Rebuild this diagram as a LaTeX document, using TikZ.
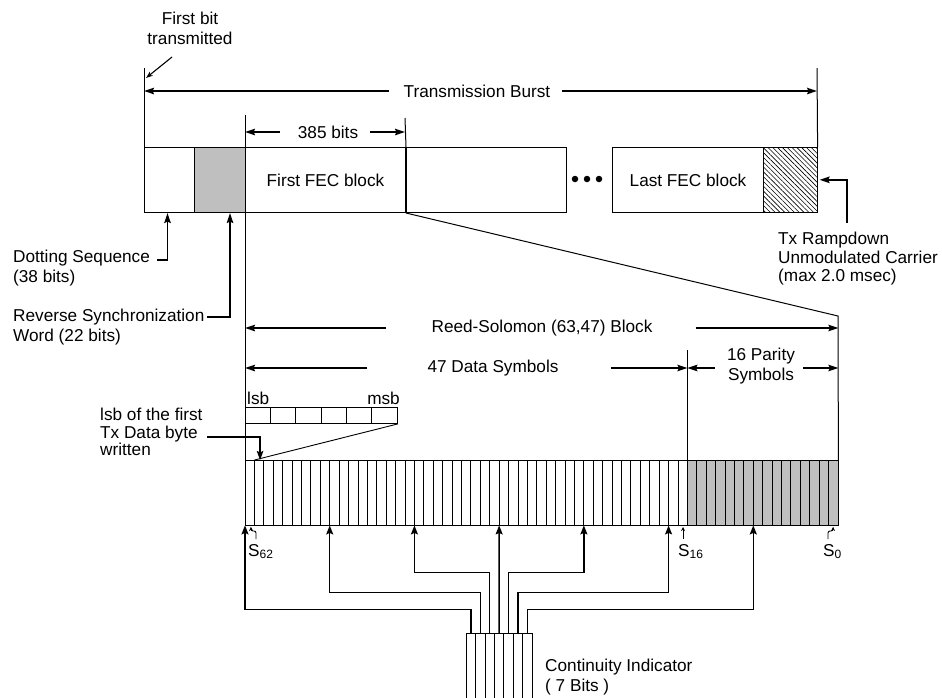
\documentclass[tikz,border=0pt]{standalone}
\usepackage{fontspec}
\setmainfont{Liberation Sans}
\usetikzlibrary{arrows.meta, positioning, calc, patterns.meta}
\newcommand\symw{9.4127}

\begin{document}
\begin{tikzpicture}[
    x=1pt, y=-1pt,
    font=\fontsize{17.2}{20}\selectfont,
    >={Stealth[length=10pt, width=6.5pt, inset=1.5pt]},
    % Base line styles
    tick/.style={line width=1pt},
    cellline/.style={line width=0.9pt},
    dim/.style={->, line width=1.6pt},
    lead/.style={->, line width=1.6pt},
    feed/.style={-{Stealth[length=9pt, width=7pt, inset=1.5pt]}, line width=1.4pt},
    mk/.style={-{Stealth[length=4pt, width=4pt]}, line width=0.9pt},
    % Boxes and labels
    blk/.style={draw, line width=1pt, minimum height=65pt, inner sep=0pt, anchor=north west},
    lbl/.style={align=left, inner sep=0pt},
    ctr/.style={align=center, inner sep=0pt},
    dot/.style={circle, fill, inner sep=0pt, minimum size=6.5pt}
]
\useasboundingbox (0,0) rectangle (942,697);

% --- Burst blocks ---
\node [blk, minimum width=50pt] (dotseq) at (144,147) {};
\node [blk, minimum width=51pt, fill=black!25] (sync) at (194,147) {};
\node [blk, minimum width=160pt] (fec1) at (245,147) {First FEC block};
\node [blk, minimum width=161pt] (fec2) at (405,147) {};
\node [blk, minimum width=151pt] (fecN) at (612,147) {Last FEC block};
\node [blk, minimum width=54pt, pattern={Lines[angle=-45, distance=3.4pt, line width=0.6pt]}] (ramp) at (763,147) {};
\draw [line width=1.6pt] (fec1.north east) -- (fec1.south east);
\foreach \x [count=\i] in {575,587,599}
  \node [dot] (dot\i) at (\x,179) {};

% Burst extent
\coordinate (fbtop) at (144,68);
\coordinate (tbtop) at (817,68);
\draw [tick] (fbtop) -- (dotseq.north west);
\draw [tick] (tbtop) -- (ramp.north east);
\node [ctr] (firstbit) at (190,28) {First bit\\transmitted};
\coordinate (fbtail) at (172,57);
\coordinate (fbtip) at (146,78);
\draw [-{Stealth[length=7pt, width=5pt]}, line width=1.1pt] (fbtail) -- (fbtip);

\node [lbl] (burst) at (477,91) {Transmission Burst};
\draw [dim] ([xshift=-15pt]burst.west) -- (burst.west -| fbtop);
\draw [dim] ([xshift=12pt]burst.east) -- (burst.east -| tbtop);

% 385 bits
\coordinate (t385a) at (245,115);
\coordinate (t385b) at (405,118);
\draw [tick] (t385b) -- (fec1.north east);
\node [lbl] (b385) at (328,132) {385 bits};
\draw [dim] ([xshift=-18pt]b385.west) -- (b385.west -| t385a);
\draw [dim] ([xshift=12pt]b385.east) -- (b385.east -| t385b);

% --- Side labels ---
\node [lbl, anchor=west] (dotlbl) at (13,268) {Dotting Sequence\\(38 bits)};
\coordinate (dottail) at (157,260);
\draw [lead] (dottail) -| ([xshift=-2pt]dotseq.south);

\node [lbl, anchor=west] (synclbl) at (13,327) {Reverse Synchronization\\Word (22 bits)};
\coordinate (synctail) at (207,317);
\draw [lead] (synctail) -| ([xshift=10pt]sync.south);

\node [lbl, anchor=west, font=\fontsize{17.2}{18.5}\selectfont] (txlbl) at (778,259) {Tx Rampdown\\Unmodulated Carrier\\(max 2.0 msec)};
\coordinate (txtail) at (847,223);
\draw [lead] (txtail) |- ([xshift=2pt]ramp.east);

% --- Reed-Solomon block ---
\node [minimum width=593pt, minimum height=65pt, inner sep=0pt, anchor=north west] (row) at (245,460) {};
\coordinate (pbound) at ($(row.north west)+(47*\symw,0)$);
\fill [black!25] (pbound) rectangle (row.south east);
\foreach \i in {1,...,62}
  \draw [cellline] ($(row.north west)+(\i*\symw,0)$) -- ++(0,65);
\draw [tick] (row.north west) rectangle (row.south east);

\draw [tick] (t385a) -- (row.north west);
\coordinate (rstop) at (838,316);
\draw [tick] (fec1.south east) -- (rstop) -- (row.north east);
\coordinate (ptop) at ($(pbound)+(0,-110)$);
\draw [tick] (ptop) -- (pbound);

\node [lbl] (rs) at (542,328) {Reed-Solomon (63,47) Block};
\draw [dim] ([xshift=-45pt]rs.west) -- (rs.west -| row.west);
\draw [dim] ([xshift=43pt]rs.east) -- (rs.east -| row.east);

\node [lbl] (data) at (493,368) {47 Data Symbols};
\draw [dim] ([xshift=-60pt]data.west) -- (data.west -| row.west);
\draw [dim] ([xshift=52pt]data.east) -- (data.east -| pbound);

\node [ctr] (parity) at (761,366) {16 Parity\\Symbols};
\draw [dim] ([xshift=-12pt]parity.west |- data.east) -- (pbound |- data.east);
\draw [dim] ([xshift=8pt]parity.east |- data.east) -- (row.east |- data.east);

% Symbol detail
\node [draw, line width=0.9pt, minimum width=152pt, minimum height=16pt, inner sep=0pt, anchor=north west] (byte) at (245,407) {};
\foreach \i in {1,...,5}
  \draw [cellline] ($(byte.north west)+(\i*25.33,0)$) -- ++(0,16);
\node [lbl, anchor=base west] (lsb) at (247,404) {lsb};
\node [lbl, anchor=base east] (msb) at (400,404) {msb};
\draw [cellline] (byte.south east) -- ($(row.north west)+(\symw,0)$);

\node [lbl, anchor=west, font=\fontsize{17.2}{17.5}\selectfont] (lsbfirst) at (100,432) {lsb of the first\\Tx Data byte\\written};
\coordinate (lsbtail) at (207,437);
\draw [-{Stealth[length=9pt, width=6.5pt, inset=1.5pt]}, line width=1.5pt] (lsbtail) -| ($(row.north west)+(1.6*\symw,0)$);

% Symbol indices
\node [lbl, anchor=base west] (s62) at (248,556) {S\textsubscript{62}};
\node [lbl, anchor=base west] (s16) at (678,556) {S\textsubscript{16}};
\node [lbl, anchor=base west] (s0) at (823,556) {S\textsubscript{0}};
\draw [mk, rounded corners=2pt] (256,539) -- (256,531) -- (251,531) -- (251,527);
\draw [mk] (683,539) -- (683,527);
\draw [mk, rounded corners=2pt] (828,539) -- (828,531) -- (833,531) -- (833,527);

% --- Continuity indicator ---
\coordinate (busnw) at (466.2,633);
\foreach \i in {0,...,7}
  \draw [cellline] ($(busnw)+(\i*\symw,0)$) -- ++(0,70);
\draw [cellline] (busnw) -- ++(7*\symw,0);
\node [lbl, anchor=west] (cilbl) at (545,677) {Continuity Indicator\\( 7 Bits )};

\foreach \k in {0,...,6} {
  \coordinate (bus\k) at ($(busnw)+({(\k+0.5)*\symw},0)$);
  \coordinate (ci\k) at ($(row.south west)+({9*\k*\symw},0)$);
}
\foreach \k/\h in {0/609,1/592,2/572,4/572,5/592,6/609}
  \draw [feed] (bus\k) |- ($(ci\k)+(0,\h-525)$) -- (ci\k);
\draw [feed] (bus3) -- (ci3);

\end{tikzpicture}
\end{document}
